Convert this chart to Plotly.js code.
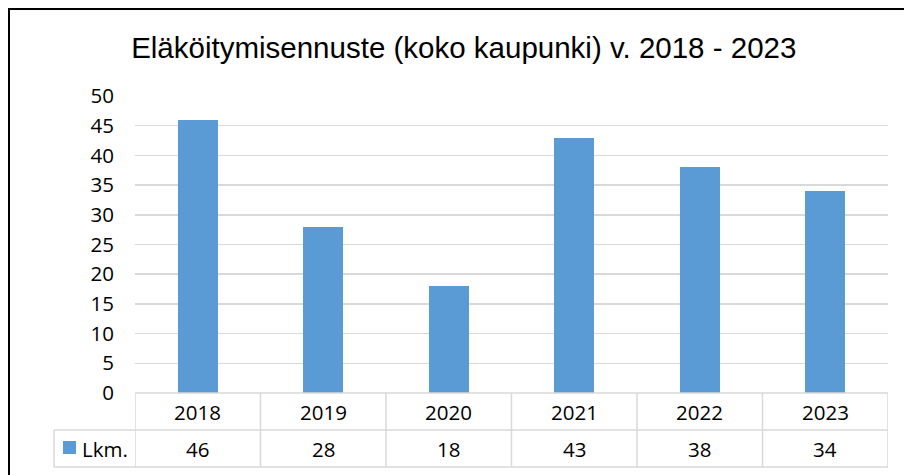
<!DOCTYPE html>
<html><head><meta charset="utf-8">
<script src="https://cdn.plot.ly/plotly-3.0.1.min.js"></script>
<style>body{margin:0;padding:0;background:#fff;}#wrap{position:relative;width:904px;height:475px;overflow:hidden}
#frame{position:absolute;left:8px;top:8px;width:1000px;height:1000px;border-top:2px solid #000;border-left:2px solid #000;pointer-events:none}</style>
</head><body><div id="wrap"><div id="chart" style="width:904px;height:475px"></div><div id="frame"></div></div>
<script>
const years = ['2018','2019','2020','2021','2022','2023'];
const values = [46, 28, 18, 43, 38, 34];
const seriesName = 'Lkm.';
const titleText = 'Eläköitymisennuste (koko kaupunki) v. 2018 - 2023';
const barColor = '#5B9BD5';
const lineColor = '#D9D9D9';
const tickFont = {family: 'Open Sans, Noto Sans, sans-serif', size: 20.5, color: '#000'};

// plot geometry in pixels used for table rows (below the axis)
const plotH = 475 - 96 - 82;
const row1 = -37 / plotH, row2 = -74 / plotH;
const legendLeft = (54 - 135) / 753; // paper x of legend cell left

const shapes = [];
const annotations = [];
shapes.push({type:'line', xref:'paper', yref:'paper', x0:0, x1:1, y0:0, y1:0, line:{color:lineColor, width:1.5}});
shapes.push({type:'line', xref:'paper', yref:'paper', x0:legendLeft, x1:1, y0:row1, y1:row1, line:{color:lineColor, width:1.5}});
shapes.push({type:'line', xref:'paper', yref:'paper', x0:legendLeft, x1:1, y0:row2, y1:row2, line:{color:lineColor, width:1.5}});
shapes.push({type:'line', xref:'paper', yref:'paper', x0:legendLeft, x1:legendLeft, y0:row1, y1:row2, line:{color:lineColor, width:1.5}});
for (let i = 0; i <= years.length; i++) {
  shapes.push({type:'line', xref:'x', yref:'paper', x0:i-0.5, x1:i-0.5, y0:0, y1:row2, line:{color:lineColor, width:1.5}});
}
years.forEach((y, i) => {
  annotations.push({xref:'x', yref:'paper', x:i, y:row1/2, text:y, showarrow:false, font:tickFont, xanchor:'center', yanchor:'middle'});
  annotations.push({xref:'x', yref:'paper', x:i, y:(row1+row2)/2, text:String(values[i]), showarrow:false, font:tickFont, xanchor:'center', yanchor:'middle'});
});
const keyX0 = (63 - 135) / 753, keyX1 = (76 - 135) / 753;
const keyY0 = -(441 - 393) / plotH, keyY1 = -(454 - 393) / plotH;
shapes.push({type:'rect', xref:'paper', yref:'paper', x0:keyX0, x1:keyX1, y0:keyY0, y1:keyY1, fillcolor:barColor, line:{width:0}});
annotations.push({xref:'paper', yref:'paper', x:(80 - 135) / 753, y:(row1+row2)/2, text:seriesName, showarrow:false, font:tickFont, xanchor:'left', yanchor:'middle'});

Plotly.newPlot('chart', [{
  type:'bar', x:years.map((_, i) => i), y:values, name:seriesName,
  marker:{color:barColor}, width:0.32, hoverinfo:'skip'
}], {
  width:904, height:475,
  margin:{l:135, r:16, t:96, b:82},
  paper_bgcolor:'#fff', plot_bgcolor:'#fff',
  showlegend:false,
  title:{text:titleText, font:{family:'Liberation Sans, Arial, sans-serif', size:29.5, color:'#000'}, x:0.513, xanchor:'center', y:0.9, yanchor:'middle', yref:'container'},
  xaxis:{type:'linear', range:[-0.5, years.length-0.5], showticklabels:false, showgrid:false, zeroline:false, ticks:'', fixedrange:true},
  yaxis:{range:[0,50], dtick:5, tick0:0, showgrid:true, gridcolor:lineColor, gridwidth:1.5, zeroline:false, ticks:'', tickfont:tickFont, ticklabelstandoff:20, fixedrange:true},
  shapes:shapes, annotations:annotations, bargap:0
}, {staticPlot:true});
</script></body></html>
